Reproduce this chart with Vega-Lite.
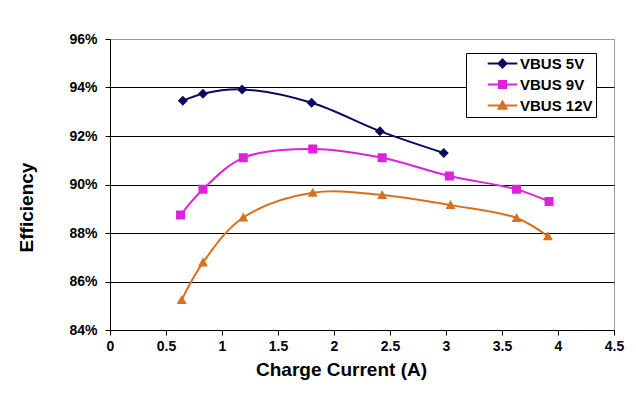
{
  "$schema": "https://vega.github.io/schema/vega-lite/v6.json",
  "autosize": "none",
  "width": 504,
  "height": 291,
  "padding": {"left": 110, "top": 39, "right": 22, "bottom": 66},
  "background": "white",
  "config": {
    "font": "Liberation Sans",
    "view": {"stroke": "#9a9a9a", "strokeWidth": 1},
    "axis": {"labelFont": "Liberation Sans", "titleFont": "Liberation Sans"}
  },
  "data": {
    "values": [
      {"series": "VBUS 5V", "current": 0.65, "eff": 93.45},
      {"series": "VBUS 5V", "current": 0.83, "eff": 93.74},
      {"series": "VBUS 5V", "current": 1.18, "eff": 93.92},
      {"series": "VBUS 5V", "current": 1.8, "eff": 93.37},
      {"series": "VBUS 5V", "current": 2.41, "eff": 92.2},
      {"series": "VBUS 5V", "current": 2.98, "eff": 91.3},
      {"series": "VBUS 9V", "current": 0.63, "eff": 88.74},
      {"series": "VBUS 9V", "current": 0.83, "eff": 89.8},
      {"series": "VBUS 9V", "current": 1.19, "eff": 91.1},
      {"series": "VBUS 9V", "current": 1.81, "eff": 91.46},
      {"series": "VBUS 9V", "current": 2.43, "eff": 91.1},
      {"series": "VBUS 9V", "current": 3.03, "eff": 90.35},
      {"series": "VBUS 9V", "current": 3.63, "eff": 89.8},
      {"series": "VBUS 9V", "current": 3.92, "eff": 89.3},
      {"series": "VBUS 12V", "current": 0.64, "eff": 85.24},
      {"series": "VBUS 12V", "current": 0.83, "eff": 86.78},
      {"series": "VBUS 12V", "current": 1.19, "eff": 88.64},
      {"series": "VBUS 12V", "current": 1.81, "eff": 89.66},
      {"series": "VBUS 12V", "current": 2.43, "eff": 89.57},
      {"series": "VBUS 12V", "current": 3.04, "eff": 89.15},
      {"series": "VBUS 12V", "current": 3.63, "eff": 88.62},
      {"series": "VBUS 12V", "current": 3.91, "eff": 87.87}
    ]
  },
  "encoding": {
    "x": {
      "field": "current", "type": "quantitative",
      "scale": {"domain": [0, 4.5], "nice": false},
      "axis": {
        "values": [0, 0.5, 1, 1.5, 2, 2.5, 3, 3.5, 4, 4.5],
        "format": "~g",
        "title": "Charge Current (A)",
        "titleFontSize": 19, "titleFontWeight": "bold", "titleColor": "black",
        "titleX": 231, "titleY": 30, "titleBaseline": "top", "titleAlign": "center",
        "labelFontSize": 14, "labelFontWeight": "bold", "labelColor": "black",
        "labelPadding": 4,
        "tickSize": 5, "tickColor": "black", "domainColor": "black",
        "grid": false, "labelFlush": false
      }
    },
    "y": {
      "field": "eff", "type": "quantitative",
      "scale": {"domain": [84, 96], "nice": false, "zero": false},
      "axis": {
        "values": [84, 86, 88, 90, 92, 94, 96],
        "labelExpr": "datum.value + '%'",
        "title": "Efficiency",
        "titleFontSize": 19, "titleFontWeight": "bold", "titleColor": "black",
        "titleX": -84, "titleY": 168, "titleBaseline": "middle", "titleAlign": "center", "titleAngle": -90,
        "labelFontSize": 14, "labelFontWeight": "bold", "labelColor": "black",
        "labelPadding": 8,
        "tickSize": 5, "tickColor": "black", "domainColor": "black",
        "grid": true,
        "gridColor": {"condition": {"test": "datum.value === 96", "value": "#9a9a9a"}, "value": "black"},
        "gridWidth": 1
      }
    },
    "color": {
      "field": "series", "type": "nominal",
      "scale": {"domain": ["VBUS 5V", "VBUS 9V", "VBUS 12V"], "range": ["#0a0a5e", "#dd22dd", "#d9701e"]},
      "legend": {
        "title": null,
        "orient": "none",
        "legendX": 356,
        "legendY": 14,
        "fillColor": "white",
        "strokeColor": "black",
        "padding": 3,
        "rowPadding": 4,
        "symbolSize": 64,
        "symbolOffset": 26,
        "labelOffset": 10,
        "labelFontSize": 15,
        "labelFontWeight": "bold",
        "labelColor": "black",
        "labelFont": "Liberation Sans",
        "symbolOpacity": 1,
        "encode": {
          "symbols": {
            "update": {
              "stroke": {"scale": "color", "field": "value"},
              "strokeWidth": {"value": 2}
            }
          }
        }
      }
    }
  },
  "layer": [
    {
      "mark": {"type": "line", "interpolate": "catmull-rom", "strokeWidth": 2},
      "encoding": {
        "detail": {"field": "series"}
      }
    },
    {
      "mark": {"type": "point", "filled": true, "size": 100, "opacity": 1},
      "encoding": {
        "shape": {
          "field": "series", "type": "nominal",
          "scale": {
            "domain": ["VBUS 5V", "VBUS 9V", "VBUS 12V"],
            "range": [
              "M-3.7,0H3.7M0,-1L1,0L0,1L-1,0Z",
              "M-3.7,0H3.7M-0.9,-0.9H0.9V0.9H-0.9Z",
              "M-3.7,0H3.7M0,-1L1,0.8H-1Z"
            ]
          }
        }
      }
    }
  ]
}
